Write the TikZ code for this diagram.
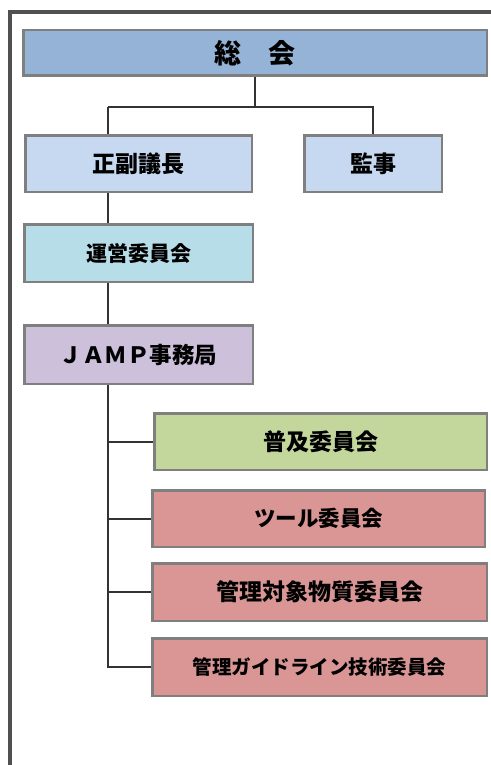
\documentclass[tikz,border=0pt]{standalone}
\usepackage{fontspec}
\newfontfamily\jpfont{Noto Sans CJK JP}
\usepackage{xcolor}
\definecolor{frameline}{HTML}{505050}
\definecolor{boxline}{HTML}{7F7F7F}
\definecolor{wire}{HTML}{333333}
\definecolor{general}{HTML}{95B3D7}
\definecolor{chair}{HTML}{C6D9F1}
\definecolor{steering}{HTML}{B7DEE8}
\definecolor{office}{HTML}{CCC0DA}
\definecolor{promo}{HTML}{C3D69B}
\definecolor{tech}{HTML}{D99694}

\begin{document}
\begin{tikzpicture}[x=1pt,y=-1pt,
		box/.style={draw=boxline,line width=2.5pt,inner sep=0pt,minimum height=56.5pt,font=\jpfont\bfseries},
		wireline/.style={draw=wire,line width=2pt},
	]
		\useasboundingbox (0,0) rectangle (490,765);
		%outer frame
		\draw[frameline,line width=4pt] (9.5,770) -- (9.5,12.5) -- (495,12.5);
		%boxes
		\node[box,fill=general,minimum width=463.5pt,minimum height=45.5pt,font=\jpfont\bfseries\fontsize{27}{27}\selectfont] (soukai) at (255,53) {総　会};
		\node[box,fill=chair,minimum width=226.5pt,font=\jpfont\bfseries\fontsize{23}{23}\selectfont] (seifuku) at (138.5,163.5) {正副議長};
		\node[box,fill=chair,minimum width=137.5pt,font=\jpfont\bfseries\fontsize{23}{23}\selectfont] (kanji) at (373,163.5) {監事};
		\node[box,fill=steering,minimum width=228.5pt,minimum height=57.5pt,font=\jpfont\bfseries\fontsize{21}{21}\selectfont] (unei) at (138.5,253) {運営委員会};
		\node[box,fill=office,minimum width=228.5pt,minimum height=58.5pt,font=\jpfont\bfseries\fontsize{22.5}{22.5}\selectfont] (jamp) at (138.5,354.5) {ＪＡＭＰ事務局};
		\node[box,fill=promo,minimum width=332.5pt,font=\jpfont\bfseries\fontsize{23}{23}\selectfont] (fukyu) at (320.5,441.5) {普及委員会};
		\node[box,fill=tech,minimum width=332.5pt,font=\jpfont\bfseries\fontsize{21.5}{21.5}\selectfont] (tool) at (318.5,518.5) {ツール委員会};
		\node[box,fill=tech,minimum width=334.5pt,minimum height=57.5pt,font=\jpfont\bfseries\fontsize{23}{23}\selectfont] (kanri) at (319.5,592) {管理対象物質委員会};
		\node[box,fill=tech,minimum width=334.5pt,minimum height=57.5pt,font=\jpfont\bfseries\fontsize{19.5}{19.5}\selectfont] (guide) at (319.5,667) {管理ガイドライン技術委員会};
		%split points
		\coordinate (split) at (soukai.south |- 0,107);
		\coordinate (trunk) at (108,107);
		%connectors
		\draw[wireline] (soukai.south) -- (split);
		\draw[wireline] (trunk) -- (split -| kanji.north) -- (kanji.north);
		\draw[wireline] (trunk) -- (trunk |- seifuku.north);
		\draw[wireline] (trunk |- seifuku.south) -- (trunk |- unei.north);
		\draw[wireline] (trunk |- unei.south) -- (trunk |- jamp.north);
		\draw[wireline] (trunk |- jamp.south) |- (guide.west);
		\draw[wireline] (trunk |- fukyu.west) -- (fukyu.west);
		\draw[wireline] (trunk |- tool.west) -- (tool.west);
		\draw[wireline] (trunk |- kanri.west) -- (kanri.west);
	\end{tikzpicture}
\end{document}
